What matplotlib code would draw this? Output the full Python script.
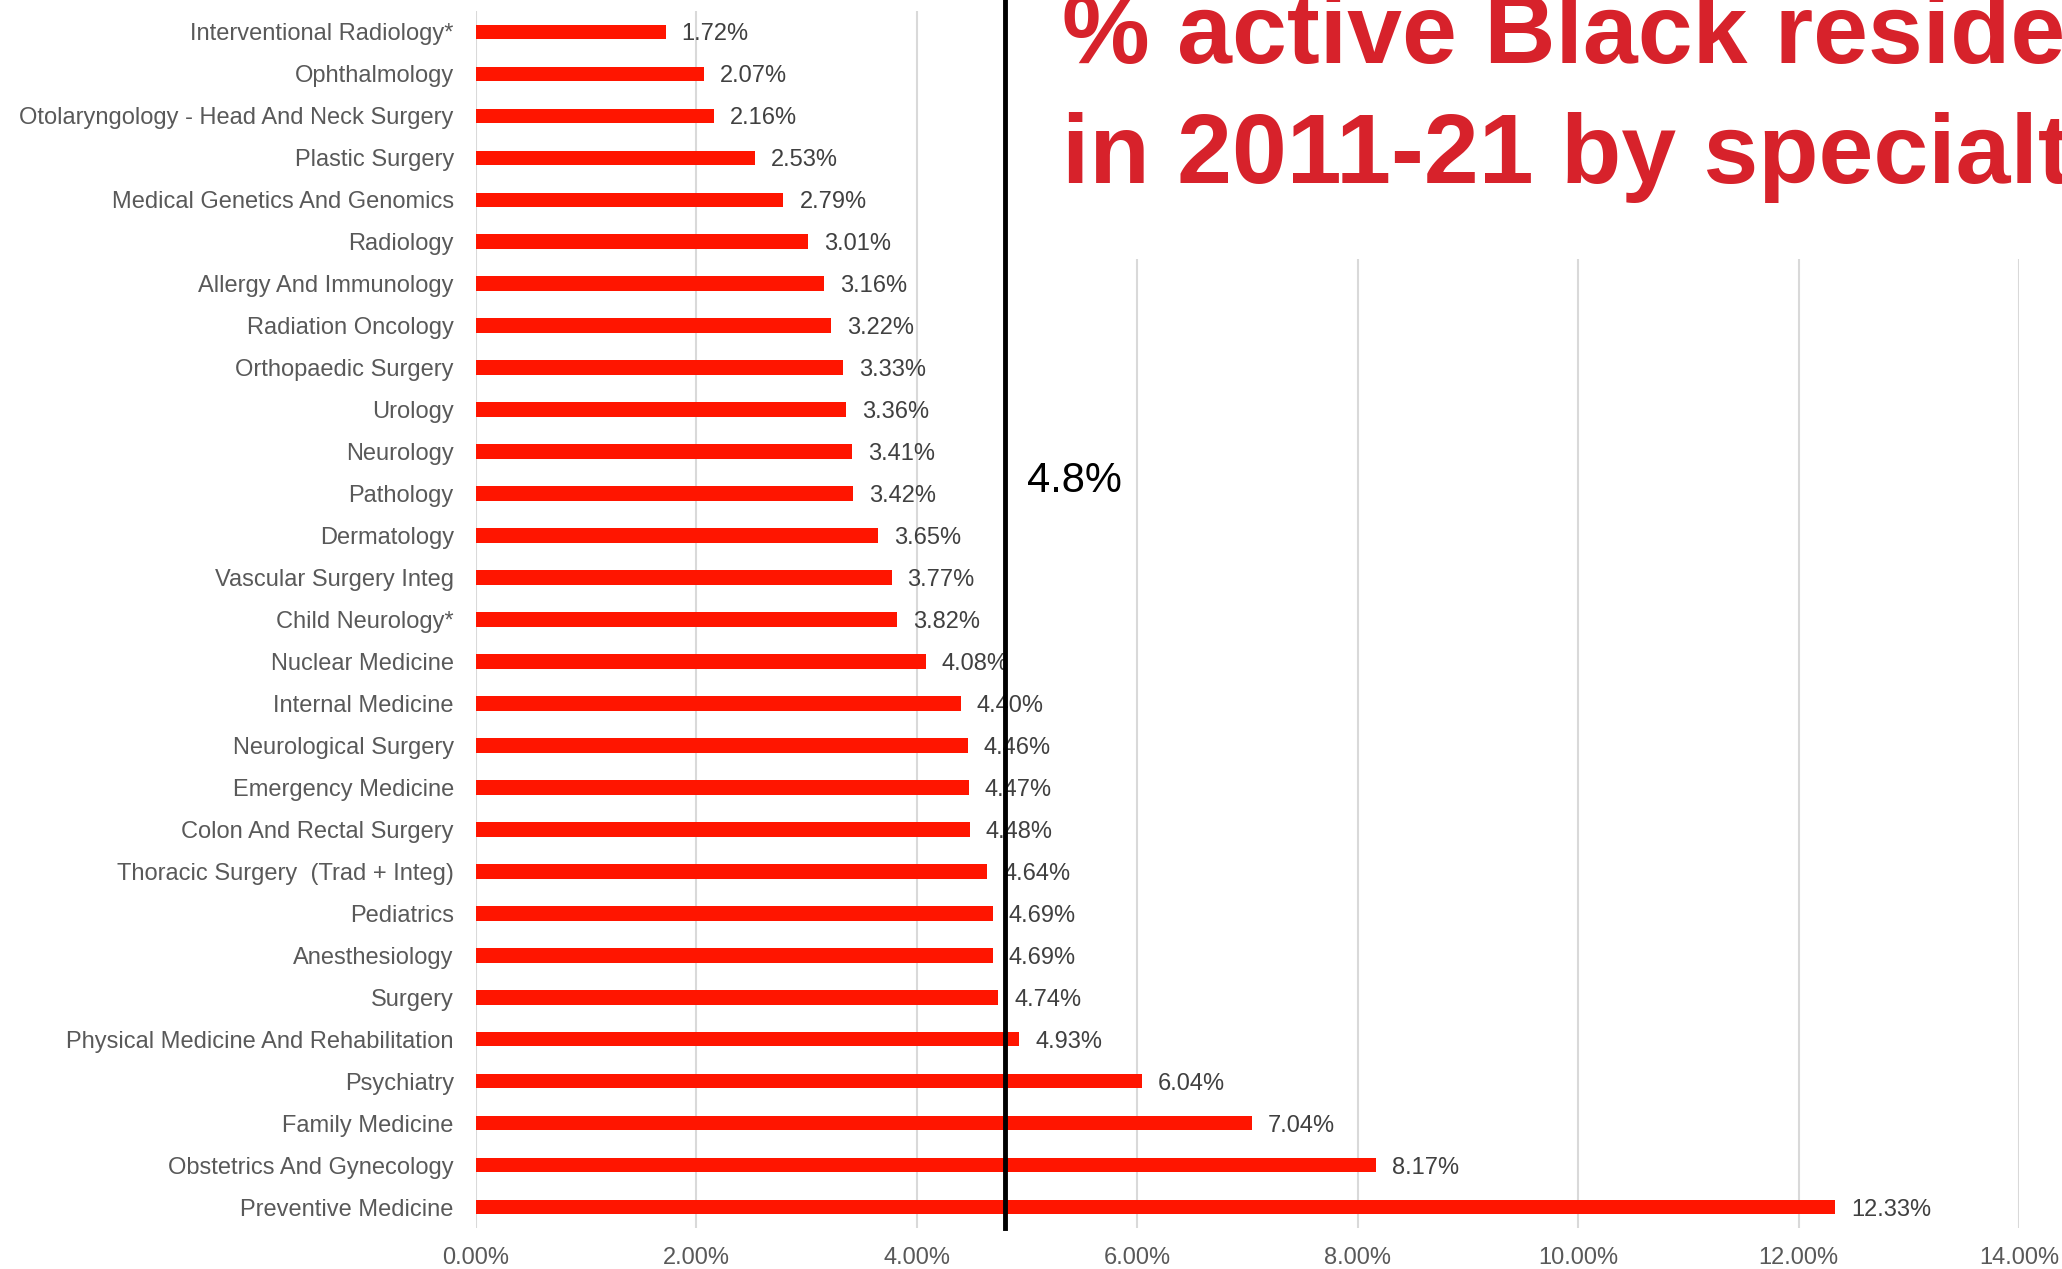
import matplotlib
matplotlib.use("Agg")
import matplotlib.pyplot as plt
from matplotlib.patches import Rectangle
from matplotlib.ticker import FuncFormatter

plt.rcParams['font.family'] = ['Liberation Sans', 'DejaVu Sans']

specialties = [
    "Interventional Radiology*", "Ophthalmology", "Otolaryngology - Head And Neck Surgery",
    "Plastic Surgery", "Medical Genetics And Genomics", "Radiology", "Allergy And Immunology",
    "Radiation Oncology", "Orthopaedic Surgery", "Urology", "Neurology", "Pathology",
    "Dermatology", "Vascular Surgery Integ", "Child Neurology*", "Nuclear Medicine",
    "Internal Medicine", "Neurological Surgery", "Emergency Medicine", "Colon And Rectal Surgery",
    "Thoracic Surgery  (Trad + Integ)", "Pediatrics", "Anesthesiology", "Surgery",
    "Physical Medicine And Rehabilitation", "Psychiatry", "Family Medicine",
    "Obstetrics And Gynecology", "Preventive Medicine",
]
pct_black = [1.72, 2.07, 2.16, 2.53, 2.79, 3.01, 3.16, 3.22, 3.33, 3.36, 3.41, 3.42,
             3.65, 3.77, 3.82, 4.08, 4.40, 4.46, 4.47, 4.48, 4.64, 4.69, 4.69, 4.74,
             4.93, 6.04, 7.04, 8.17, 12.33]
benchmark = 4.8
x_ticks = [0, 2, 4, 6, 8, 10, 12, 14]
title_lines = ["% active Black residents", "in 2011-21 by specialty"]

W, H = 2062, 1269
fig = plt.figure(figsize=(W / 100, H / 100), dpi=100)
fig.patch.set_facecolor("white")
ax = fig.add_axes([476 / W, 1 - 1228 / H, (2019 - 476) / W, (1228 - 11) / H])

y = list(range(len(specialties)))
bars = ax.barh(y, pct_black, height=0.35, color="#FF1500", zorder=2)
ax.set_yticks(y)
ax.set_yticklabels(specialties)
ax.set_ylim(len(specialties) - 0.5, -0.5)
ax.set_xlim(0, 14)
ax.set_xticks(x_ticks)
ax.xaxis.set_major_formatter(FuncFormatter(lambda v, p: f"{v:.2f}%"))
ax.tick_params(axis="y", length=0, pad=16, labelsize=17, labelcolor="#595959")
ax.tick_params(axis="x", length=0, pad=14, labelsize=17, labelcolor="#595959")
for lbl in ax.get_yticklabels():
    lbl.set_verticalalignment("center_baseline")
ax.grid(axis="x", color="#D9D9D9", linewidth=1.5, zorder=0)
ax.set_axisbelow(True)
for s in ax.spines.values():
    s.set_visible(False)

for yi, v in zip(y, pct_black):
    ax.annotate(f"{v:.2f}%", xy=(v, yi), xytext=(11.5, 0), textcoords="offset points",
                va="center_baseline", ha="left", fontsize=17, color="#404040", zorder=3)

# white box behind title
ax.add_patch(Rectangle((0.352, 1 - (259 - 11) / (1228 - 11)), 0.7, 0.3,
                       transform=ax.transAxes, facecolor="white", edgecolor="none",
                       zorder=4, clip_on=False))

ax.axvline(benchmark, ymin=0, ymax=1.01, color="black", linewidth=3.5, zorder=6, clip_on=False)
ax.text(benchmark + 0.2, 10.95, f"{benchmark}%", fontsize=30, color="black",
        ha="left", va="baseline", zorder=7)

fig.text(1062 / W, 1 - 63 / H, title_lines[0], fontsize=71, fontweight="bold",
         color="#D7222B", ha="left", va="baseline", zorder=10)
fig.text(1062 / W, 1 - 183 / H, title_lines[1], fontsize=71, fontweight="bold",
         color="#D7222B", ha="left", va="baseline", zorder=10)

fig.savefig("out.png", dpi=100)
